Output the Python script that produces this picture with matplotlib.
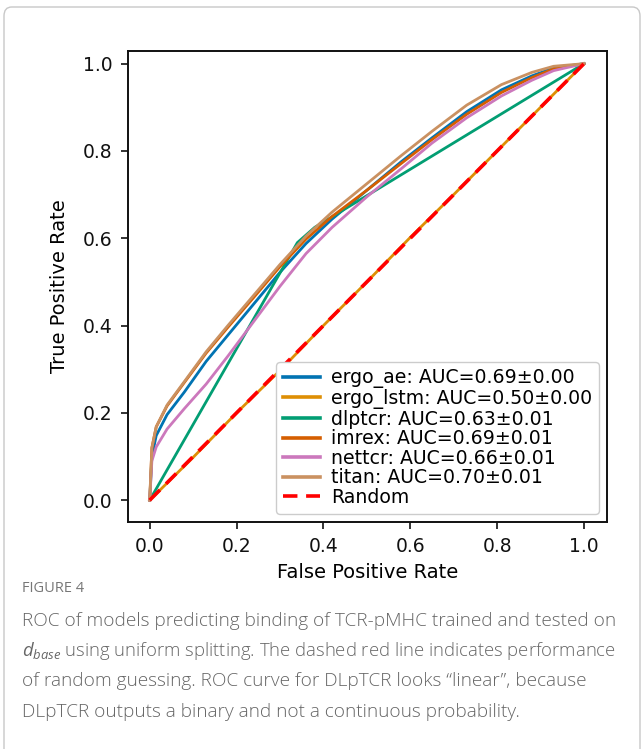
import matplotlib
matplotlib.use("Agg")
import matplotlib.pyplot as plt
from matplotlib.patches import FancyBboxPatch

# ---------------- data ----------------
fpr_common = [0, 0.005, 0.015, 0.04, 0.08, 0.13, 0.18, 0.24, 0.30, 0.36, 0.42, 0.50, 0.58, 0.65, 0.73, 0.81, 0.88, 0.93, 1.0]

fpr_titan = fpr_common
tpr_titan = [0, 0.12, 0.168, 0.218, 0.272, 0.34, 0.40, 0.47, 0.54, 0.605, 0.66, 0.725, 0.79, 0.845, 0.905, 0.952, 0.98, 0.994, 1.0]

fpr_ergo_ae = fpr_common
tpr_ergo_ae = [0, 0.10, 0.148, 0.196, 0.248, 0.318, 0.378, 0.45, 0.522, 0.588, 0.644, 0.71, 0.776, 0.83, 0.89, 0.94, 0.972, 0.99, 1.0]

fpr_imrex = fpr_common
tpr_imrex = [0, 0.12, 0.168, 0.216, 0.27, 0.337, 0.396, 0.465, 0.535, 0.598, 0.65, 0.71, 0.772, 0.826, 0.884, 0.934, 0.968, 0.988, 1.0]

fpr_nettcr = fpr_common
tpr_nettcr = [0, 0.09, 0.122, 0.163, 0.21, 0.266, 0.33, 0.41, 0.49, 0.565, 0.625, 0.695, 0.76, 0.818, 0.876, 0.926, 0.962, 0.984, 1.0]

fpr_dlptcr = [0, 0.34, 0.38, 1.0]
tpr_dlptcr = [0, 0.59, 0.625, 1.0]

fpr_ergo_lstm = [0, 0.1, 0.2, 0.3, 0.4, 0.5, 0.6, 0.7, 0.8, 0.9, 1.0]
tpr_ergo_lstm = [0, 0.098, 0.2, 0.297, 0.4, 0.5, 0.602, 0.7, 0.8, 0.9, 1.0]

fpr_random = [0, 1]
tpr_random = [0, 1]

labels = ["ergo_ae: AUC=0.69\u00b10.00", "ergo_lstm: AUC=0.50\u00b10.00", "dlptcr: AUC=0.63\u00b10.01",
          "imrex: AUC=0.69\u00b10.01", "nettcr: AUC=0.66\u00b10.01", "titan: AUC=0.70\u00b10.01", "Random"]
colors = ["#0173B2", "#DE8F05", "#029E73", "#D55E00", "#CC78BC", "#CA9161"]

x_ticks = [0.0, 0.2, 0.4, 0.6, 0.8, 1.0]
y_ticks = [0.0, 0.2, 0.4, 0.6, 0.8, 1.0]

caption_lines = [
    "ROC of models predicting binding of TCR-pMHC trained and tested on",
    r"$d_{base}$ using uniform splitting. The dashed red line indicates performance",
    "of random guessing. ROC curve for DLpTCR looks \u201clinear\u201d, because",
    "DLpTCR outputs a binary and not a continuous probability.",
]

# ---------------- figure ----------------
plt.rcParams['font.family'] = ['DejaVu Sans']
plt.rcParams['mathtext.fontset'] = 'custom'
plt.rcParams['mathtext.rm'] = 'Open Sans'
plt.rcParams['mathtext.it'] = 'Open Sans:italic'

W, H = 643, 749
fig = plt.figure(figsize=(W / 100, H / 100), dpi=100)

def fx(px):
    return px / W

def fy(py):
    return 1 - py / H

# outer rounded frame
frame = FancyBboxPatch((fx(4), fy(770)), fx(640) - fx(4), fy(7) - fy(770),
                       boxstyle="round,pad=0,rounding_size=0.012",
                       transform=fig.transFigure, fill=False,
                       edgecolor="#c8c8c8", linewidth=1.0, clip_on=False)
fig.patches.append(frame)

ax = fig.add_axes([fx(128), fy(522), fx(607) - fx(128), fy(51) - fy(522)])

series = [(fpr_ergo_ae, tpr_ergo_ae), (fpr_ergo_lstm, tpr_ergo_lstm), (fpr_dlptcr, tpr_dlptcr),
          (fpr_imrex, tpr_imrex), (fpr_nettcr, tpr_nettcr), (fpr_titan, tpr_titan)]
for (xs, ys_), c, lab in zip(series, colors, labels[:6]):
    ax.plot(xs, ys_, color=c, lw=2.0, label=lab)
ax.plot(fpr_random, tpr_random, color="red", lw=2.6, ls=(0, (4, 2.4)), label=labels[6])

ax.set_xlim(-0.05, 1.053)
ax.set_ylim(-0.05, 1.029)
ax.set_xticks(x_ticks)
ax.set_yticks(y_ticks)
ax.set_xticklabels([f"{v:.1f}" for v in x_ticks])
ax.set_yticklabels([f"{v:.1f}" for v in y_ticks])
ax.tick_params(direction="out", length=5, width=1.2, labelsize=13.5, pad=6, colors="#111111")
for s in ax.spines.values():
    s.set_linewidth(1.4)
    s.set_color("#111111")
ax.set_xlabel("False Positive Rate", fontsize=14, labelpad=5)
ax.set_ylabel("True Positive Rate", fontsize=14, labelpad=10)

leg = ax.legend(loc="lower right", fontsize=13.6, labelspacing=0.03, borderpad=0.35,
                handlelength=2.0, handletextpad=0.55, borderaxespad=0.45,
                framealpha=1.0, edgecolor="#cccccc", fancybox=True)
for line in leg.get_lines():
    line.set_linewidth(2.6)

# caption
fig.text(fx(22), fy(588), "FIGURE 4", fontsize=10.5, color="#777777", va="center", ha="left",
         family="Open Sans")
cap_y = [621, 651, 681, 712]
cap_size = [13.7, 13.35, 13.7, 13.7]
for txt, y, fs in zip(caption_lines, cap_y, cap_size):
    fig.text(fx(22), fy(y), txt, fontsize=fs, color="#666666", va="center", ha="left",
             family="Open Sans", fontweight="light")

fig.savefig("out.png", dpi=100)
